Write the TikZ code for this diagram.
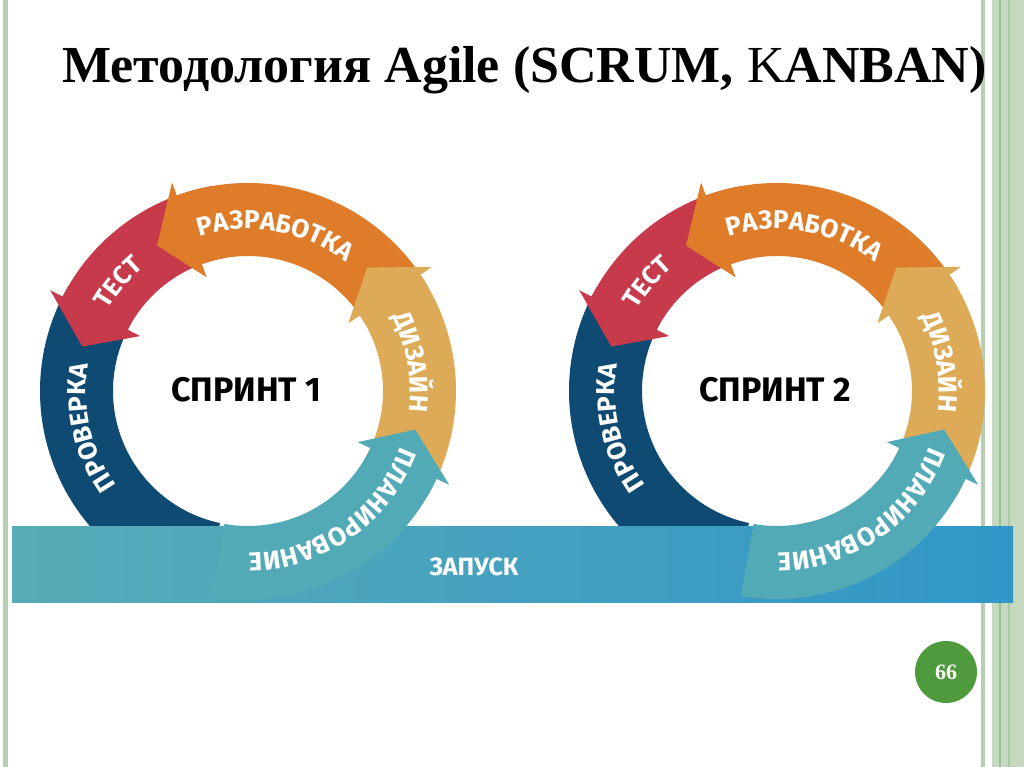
\documentclass[tikz,border=0pt]{standalone}
\usepackage{fontspec}
\setmainfont{Liberation Serif}
\newfontfamily\ringfont{Fira Sans}
\usepackage{tikz}
\usetikzlibrary{decorations.text}
\usepackage{xcolor}
\definecolor{framegreen}{HTML}{B5CFB0}
\definecolor{framelight}{HTML}{C4D9C0}
\definecolor{framedark}{HTML}{9BBF95}
\definecolor{framemid}{HTML}{ADCAA8}
\definecolor{checkblue}{HTML}{0F4A72}
\definecolor{testred}{HTML}{C73A4B}
\definecolor{devorange}{HTML}{DE7C2A}
\definecolor{designgold}{HTML}{DDAB57}
\definecolor{planteal}{HTML}{51AAB5}
\definecolor{bandteal}{HTML}{58ACB6}
\definecolor{bandblue}{HTML}{3196C8}
\definecolor{pagegreen}{HTML}{4F9A3C}
\tikzset{
  ringtext/.style={decorate, decoration={text along path, text align=center, text color=white,
    text={|\ringfont\bfseries\fontsize{26}{26}\selectfont|#1}}},
  sprintlabel/.style={font=\ringfont\bfseries\fontsize{34}{34}\selectfont, text=black},
  launchlabel/.style={font=\ringfont\bfseries\fontsize{25}{25}\selectfont, text=white},
  pagemark/.style={circle, fill=pagegreen, minimum size=62pt, inner sep=0pt, text=white,
    font=\bfseries\fontsize{22}{22}\selectfont}
}

\begin{document}
\begin{tikzpicture}[x=1pt, y=1pt]
  \useasboundingbox (0,0) rectangle (1024,767);
  \fill[white] (0,0) rectangle (1024,767);

  % frame stripes
  \fill[framegreen] (3,0) rectangle (8,767);
  \fill[framegreen] (981,0) rectangle (985,767);
  \fill[framelight] (992,0) rectangle (1024,767);
  \draw[framedark, line width=1.2pt] (1000,0) -- (1000,767);
  \draw[framemid, line width=1.2pt] (1009,0) -- (1009,767);

  \node[anchor=base west, font=\bfseries\fontsize{52}{52}\selectfont, inner sep=0pt] (title) at (62,684)
    {Методология Agile (SCRUM, {\mdseries K}ANBAN)};

  % rings, lower part
  \foreach \cx in {248,777} {
    \begin{scope}[shift={(\cx,376)}]
      \fill[checkblue] (150:208) arc[start angle=150, end angle=258, radius=208]
        -- (258:135) arc[start angle=258, end angle=150, radius=135] -- cycle;
      \foreach \a/\b/\t/\col in {100/153/165/testred,30/110/122/devorange,-30/34/46/designgold}
        \fill[\col] (\a:208) arc[start angle=\a, end angle=\b, radius=208] -- (\b:222)
          -- (\t:171.5) -- (\b:121) -- (\b:135) arc[start angle=\b, end angle=\a, radius=135] -- cycle;
    \end{scope}
  }

  \fill[left color=bandteal, right color=bandblue] (12,164) rectangle (1013,240);
  \node[launchlabel] (launch) at (474,200) {ЗАПУСК};

  % rings, upper part and texts
  \foreach \cx/\num in {248/1,777/2} {
    \begin{scope}[shift={(\cx,376)}]
      \fill[planteal] (-100:208) arc[start angle=-100, end angle=-25, radius=208] -- (-25:222)
        -- (-13:171.5) -- (-25:121) -- (-25:135) arc[start angle=-25, end angle=-100, radius=135] -- cycle;
      \path[ringtext=ПРОВЕРКА] (250:162) arc[start angle=250, end angle=136, radius=162];
      \path[ringtext=ТЕСТ] (170:162) arc[start angle=170, end angle=110, radius=162];
      \path[ringtext=РАЗРАБОТКА] (130:162) arc[start angle=130, end angle=30, radius=162];
      \path[ringtext=ДИЗАЙН] (50:162) arc[start angle=50, end angle=-30, radius=162];
      \path[ringtext=ПЛАНИРОВАНИЕ] (-10:162) arc[start angle=-10, end angle=-100, radius=162];
      \node[sprintlabel] (sprint\num) at (-2,1) {СПРИНТ \num};
    \end{scope}
  }

  \node[pagemark] (pagenum) at (946,95) {66};
\end{tikzpicture}
\end{document}
